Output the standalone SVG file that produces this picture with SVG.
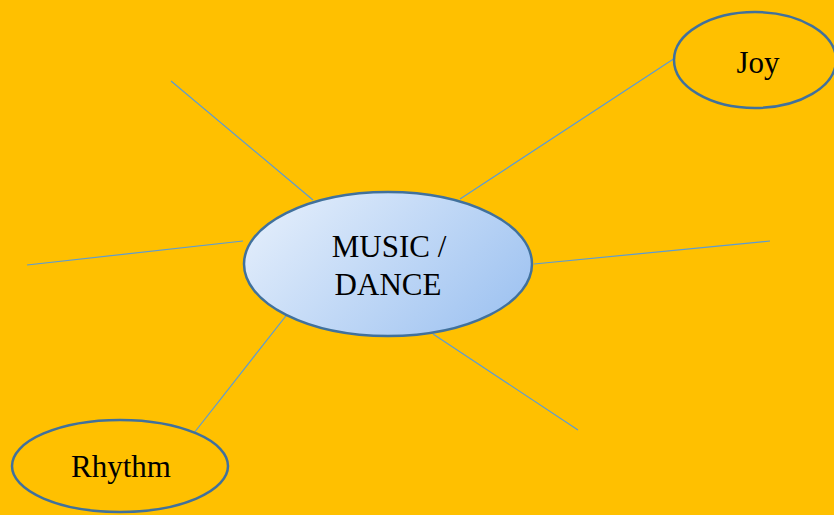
<svg xmlns="http://www.w3.org/2000/svg" width="834" height="515" viewBox="0 0 834 515">
<defs>
<linearGradient id="g" x1="0" y1="0.25" x2="1" y2="0.75">
<stop offset="0" stop-color="#E2EDFB"/>
<stop offset="1" stop-color="#9FC3F1"/>
</linearGradient>
<style>
.ln{stroke:#5B9BD5;stroke-width:1.2;fill:none}
.el{stroke:#41719C;stroke-width:2.5}
.t{font-family:"Liberation Serif","DejaVu Serif",serif;font-size:31px;fill:#000;text-anchor:middle}
</style>
</defs>
<rect width="834" height="515" fill="#FFC000"/>
<g id="connectors">
<line class="ln" x1="171" y1="81" x2="313" y2="200"/>
<line class="ln" x1="27" y1="265" x2="243" y2="241"/>
<line class="ln" x1="460" y1="199" x2="675" y2="58"/>
<line class="ln" x1="534" y1="264" x2="770" y2="241"/>
<line class="ln" x1="433" y1="334" x2="578" y2="430"/>
<line class="ln" x1="289" y1="312" x2="194" y2="433"/>
</g>
<g id="center">
<ellipse class="el" cx="388" cy="264" rx="144" ry="72" fill="url(#g)"/>
<text class="t" x="389" y="257">MUSIC /</text>
<text class="t" x="388" y="295">DANCE</text>
</g>
<g id="joy">
<ellipse class="el" cx="755" cy="60" rx="81" ry="48" fill="none"/>
<text class="t" x="758" y="73">Joy</text>
</g>
<g id="rhythm">
<ellipse class="el" cx="120" cy="466" rx="108" ry="46" fill="none"/>
<text class="t" x="121" y="477">Rhythm</text>
</g>
</svg>
